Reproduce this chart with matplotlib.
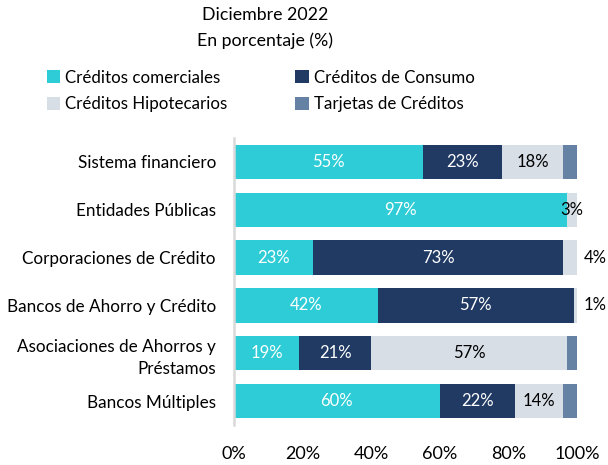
import numpy as np
import matplotlib
matplotlib.use("Agg")
import matplotlib.pyplot as plt
from matplotlib.patches import Patch

plt.rcParams['font.family'] = ['Lato', 'DejaVu Sans']

# ---- data ----
categorias = ["Sistema financiero", "Entidades Públicas", "Corporaciones de Crédito",
              "Bancos de Ahorro y Crédito", "Asociaciones de Ahorros y\nPréstamos",
              "Bancos Múltiples"]
comerciales = [55, 97, 23, 42, 19, 60]
consumo = [23, 0, 73, 57, 21, 22]
hipotecarios = [18, 3, 4, 1, 57, 14]
tarjetas = [4, 0, 0, 0, 3, 4]

series = ["Créditos comerciales", "Créditos de Consumo", "Créditos Hipotecarios", "Tarjetas de Créditos"]
colores = ["#2ECCD6", "#213A63", "#D7DEE6", "#6581A3"]
texto_color = ["white", "white", "black", None]

fig = plt.figure(figsize=(6.08, 4.65), dpi=100)
ax = fig.add_axes([234 / 608, 1 - 425 / 465, (577 - 234) / 608, (425 - 138) / 465])

y = np.arange(len(categorias))
left = np.zeros(len(categorias))
datos = [comerciales, consumo, hipotecarios, tarjetas]
for i, vals in enumerate(datos):
    vals = np.array(vals, dtype=float)
    ax.barh(y, vals, left=left, height=0.72, color=colores[i], edgecolor='none')
    if texto_color[i] is not None:
        for j, v in enumerate(vals):
            if v <= 0:
                continue
            if v >= 8:
                ax.text(left[j] + v / 2, y[j], f"{v:.0f}%", ha='center', va='center',
                        color=texto_color[i], fontsize=12)
            elif i == 2 and tarjetas[j] == 0 and consumo[j] == 0:
                ax.text(left[j] + v / 2, y[j], f"{v:.0f}%", ha='center', va='center',
                        color='black', fontsize=12)
            else:
                ax.text(left[j] + v + 2, y[j], f"{v:.0f}%", ha='left', va='center',
                        color='black', fontsize=12)
    left += vals

ax.set_xlim(0, 100)
ax.set_ylim(len(categorias) - 0.5, -0.5)
ax.set_yticks(y)
ax.set_yticklabels(categorias, fontsize=12.3, linespacing=1.45)
ax.set_xticks([0, 20, 40, 60, 80, 100])
ax.set_xticklabels([f"{t}%" for t in [0, 20, 40, 60, 80, 100]], fontsize=13)
ax.tick_params(axis='y', length=0, pad=13)
ax.tick_params(axis='x', length=0, pad=15)
for s in ['top', 'right', 'bottom']:
    ax.spines[s].set_visible(False)
ax.spines['left'].set_color('#D9D9D9')
ax.spines['left'].set_linewidth(1.8)

fig.text(265 / 608, 1 - 15 / 465, "Diciembre 2022", ha='center', va='center', fontsize=12.8)
fig.text(265 / 608, 1 - 41 / 465, "En porcentaje (%)", ha='center', va='center', fontsize=12.8)

# fila por fila: comerciales/consumo arriba, hipotecarios/tarjetas abajo
orden = [0, 2, 1, 3]
handles = [Patch(facecolor=colores[k], edgecolor='none') for k in orden]
etiquetas = [series[k] for k in orden]
fig.legend(handles, etiquetas, loc='upper left', bbox_to_anchor=(40 / 608, 1 - 63 / 465),
           ncol=2, frameon=False, fontsize=12.2, handlelength=0.8, handleheight=0.8,
           handletextpad=0.3, columnspacing=4.0, labelspacing=0.6, borderaxespad=0)

fig.savefig("out.png", dpi=100)
